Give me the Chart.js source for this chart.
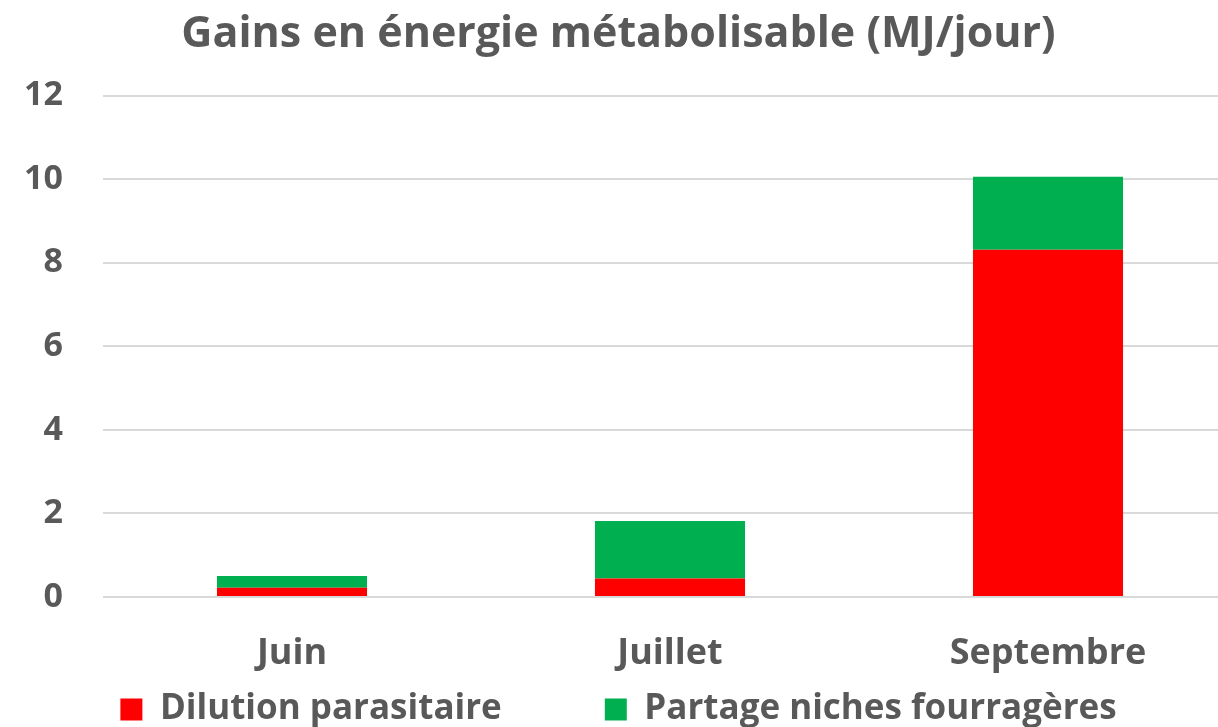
<!DOCTYPE html>
<html lang="fr">
<head>
<meta charset="UTF-8">
<title>Gains en énergie métabolisable</title>
<script src="https://cdn.jsdelivr.net/npm/chart.js"></script>
<style>
    html, body { margin: 0; padding: 0; background: #fff; overflow: hidden; }
</style>
</head>
<body>
<!-- la zone de tracé de l'original est coupée à droite -->
<canvas id="graf" width="1237" height="727"></canvas>
<script>
    // valeurs
    const mois = ['Juin', 'Juillet', 'Septembre'];
    const dilution = [0.22, 0.44, 8.31];
    const partage = [0.28, 1.38, 1.75];
    const graduations = [0, 2, 4, 6, 8, 10, 12];

    const gris = '#595959';
    const police = "'Open Sans', sans-serif";

    new Chart(document.getElementById('graf'), {
        type: 'bar',
        data: {
            labels: mois,
            datasets: [
                { label: 'Dilution parasitaire', data: dilution, backgroundColor: '#FF0000' },
                { label: 'Partage niches fourragères', data: partage, backgroundColor: '#00B050' }
            ]
        },
        options: {
            responsive: false,
            animation: false,
            devicePixelRatio: 1,
            layout: { padding: 0 },
            datasets: { bar: { categoryPercentage: 1, barPercentage: 0.397 } },
            plugins: {
                title: {
                    display: true,
                    text: 'Gains en énergie métabolisable (MJ/jour)',
                    color: gris,
                    font: { family: police, size: 43, weight: 'bold' },
                    padding: { top: 9, bottom: 35 }
                },
                legend: {
                    position: 'bottom',
                    maxHeight: 38,
                    labels: {
                        color: gris,
                        font: { family: police, size: 35, weight: 'bold' },
                        boxWidth: 22,
                        boxHeight: 22,
                        padding: 3,
                        generateLabels: function (chart) {
                            const items = Chart.defaults.plugins.legend.labels.generateLabels(chart);
                            // espace entre les deux entrées
                            items[0].text = items[0].text + '\u00a0'.repeat(11);
                            return items;
                        }
                    }
                },
                tooltip: { enabled: false }
            },
            scales: {
                x: {
                    stacked: true,
                    grid: { display: false },
                    border: { display: false },
                    ticks: { color: gris, font: { family: police, size: 36, weight: 'bold' }, padding: 27 },
                    afterFit: function (s) { s.height = 92; }
                },
                y: {
                    stacked: true,
                    min: 0,
                    max: 12,
                    afterBuildTicks: function (s) { s.ticks = graduations.map(v => ({ value: v })); },
                    grid: { color: '#D9D9D9', lineWidth: 2, drawTicks: false },
                    border: { display: false },
                    ticks: { color: gris, font: { family: police, size: 34, weight: 'bold' }, padding: 40 },
                    afterFit: function (s) { s.width = 103; }
                }
            }
        }
    });
</script>
</body>
</html>
